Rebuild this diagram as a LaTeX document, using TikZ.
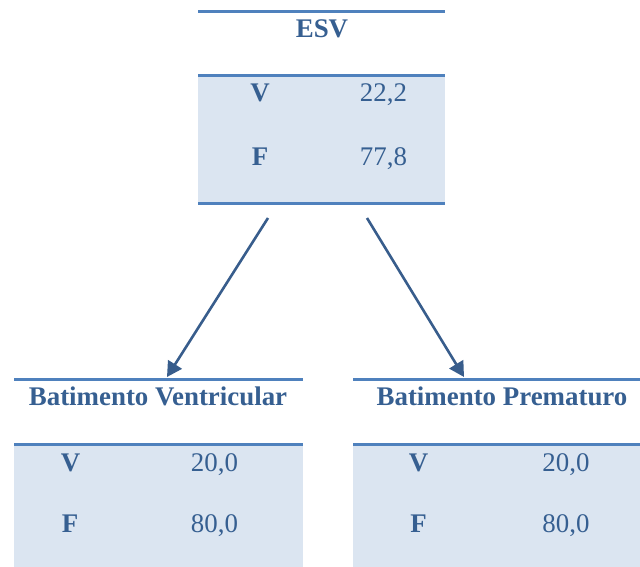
\documentclass[tikz,border=0pt]{standalone}
\usepackage{fontspec}
\setmainfont{Liberation Serif}
\usetikzlibrary{arrows.meta}
\definecolor{rulecol}{RGB}{79,129,189}
\definecolor{cellfill}{RGB}{219,229,241}
\definecolor{inkblue}{RGB}{54,95,145}
\definecolor{linkcol}{RGB}{56,93,140}
\begin{document}
\begin{tikzpicture}[x=1pt,y=-1pt,
  txt/.style={inner sep=0pt, anchor=base, text=inkblue, font=\fontsize{26.9}{30}\selectfont},
  lab/.style={txt, font=\fontsize{26.9}{30}\selectfont\bfseries},
  rule/.style={draw=rulecol, line width=3pt},
  body/.style={fill=cellfill, draw=none, inner sep=0pt, outer sep=0pt, anchor=north west},
  link/.style={draw=linkcol, line width=2.6pt, -{Triangle[length=15pt,width=16pt]}}]
\useasboundingbox (0,0) rectangle (640,567);

% ESV table
\node[body, minimum width=247pt, minimum height=127pt] (esvbody) at (198,76) {};
\coordinate (esvtopL) at (198,12);
\coordinate (esvtopR) at (445,12);
\draw[rule] (esvtopL) -- (esvtopR);
\draw[rule] (esvbody.north west) -- (esvbody.north east);
\draw[rule] (esvbody.south west) -- (esvbody.south east);
\node[lab] (esvtitle) at (322,38) {ESV};
\node[lab] (esvV) at (260,102) {V};
\node[txt] (esvVv) at (383.5,102) {22,2};
\node[lab] (esvF) at (260,166) {F};
\node[txt] (esvFv) at (383.5,166) {77,8};

% Batimento Ventricular table
\node[body, minimum width=289pt, minimum height=123pt] (bvbody) at (14,444) {};
\coordinate (bvtopL) at (14,379.5);
\coordinate (bvtopR) at (303,379.5);
\draw[rule] (bvtopL) -- (bvtopR);
\draw[rule] (bvbody.north west) -- (bvbody.north east);
\node[lab] (bvtitle) at (158,405.5) {Batimento Ventricular};
\node[lab] (bvV) at (70.5,471) {V};
\node[txt] (bvVv) at (214.5,471) {20,0};
\node[lab] (bvF) at (70,532) {F};
\node[txt] (bvFv) at (214.5,532) {80,0};

% Batimento Prematuro table
\node[body, minimum width=287pt, minimum height=123pt] (bpbody) at (353,444) {};
\coordinate (bptopL) at (353,379.5);
\coordinate (bptopR) at (640,379.5);
\draw[rule] (bptopL) -- (bptopR);
\draw[rule] (bpbody.north west) -- (bpbody.north east);
\node[lab] (bptitle) at (502,405.5) {Batimento Prematuro};
\node[lab] (bpV) at (418.5,471) {V};
\node[txt] (bpVv) at (566,471) {20,0};
\node[lab] (bpF) at (418.5,532) {F};
\node[txt] (bpFv) at (566,532) {80,0};

% connectors
\coordinate (toBV) at (167,377);
\coordinate (toBP) at (464,377);
\draw[link] ([xshift=-53.5pt,yshift=-15pt]esvbody.south) -- (toBV);
\draw[link] ([xshift=45.5pt,yshift=-15pt]esvbody.south) -- (toBP);
\end{tikzpicture}
\end{document}
